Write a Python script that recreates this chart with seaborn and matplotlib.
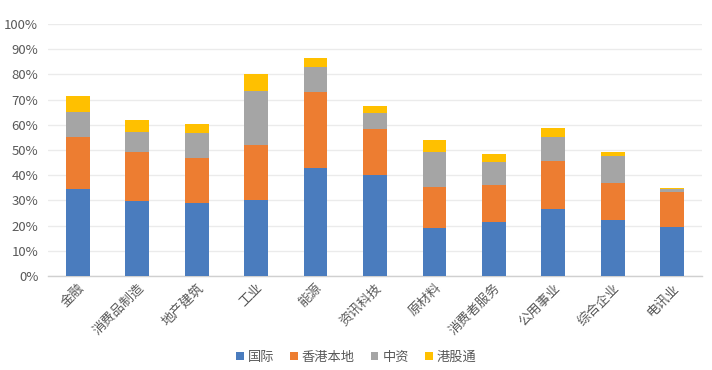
import matplotlib
matplotlib.use("Agg")
import matplotlib.pyplot as plt
import seaborn as sns
import numpy as np
import pandas as pd
from matplotlib.patches import Patch
from matplotlib.ticker import PercentFormatter

categories = ["金融", "消费品制造", "地产建筑", "工业", "能源", "资讯科技",
              "原材料", "消费者服务", "公用事业", "综合企业", "电讯业"]
intl = [34.6, 29.8, 29.0, 30.2, 43.0, 39.9, 19.1, 21.5, 26.4, 22.3, 19.5]
hk_local = [20.4, 19.5, 17.9, 21.6, 30.2, 18.5, 16.3, 14.7, 19.3, 14.7, 13.9]
china = [10.2, 7.9, 9.9, 21.7, 9.8, 6.4, 13.9, 9.1, 9.5, 10.8, 1.2]
connect = [6.3, 4.8, 3.6, 6.8, 3.6, 2.7, 4.7, 3.2, 3.6, 1.5, 0.4]
series_names = ["国际", "香港本地", "中资", "港股通"]
colors = ["#4A7CBE", "#ED7D31", "#A5A5A5", "#FFC000"]

sns.set_theme(style="white")
plt.rcParams["font.family"] = ["Noto Sans CJK SC", "DejaVu Sans"]

fig = plt.figure(figsize=(7.12, 3.70), dpi=100)
ax = fig.add_axes([0.0674, 0.254, 0.9186, 0.681])

vals = np.array([intl, hk_local, china, connect]) / 100.0
cum = np.cumsum(vals, axis=0)

for i in range(3, -1, -1):
    df = pd.DataFrame({"cat": categories, "v": cum[i]})
    sns.barplot(data=df, x="cat", y="v", color=colors[i], width=0.40,
                saturation=1, ax=ax, zorder=3 + (3 - i), edgecolor="none")

ax.set_ylim(0, 1.0)
ax.set_xlim(-0.5, len(categories) - 0.5)
ax.set_yticks(np.arange(0, 1.01, 0.1))
ax.yaxis.set_major_formatter(PercentFormatter(1.0, decimals=0))
ax.grid(axis="y", color="#EBEBEB", linewidth=1, zorder=0)
ax.set_axisbelow(True)
for s in ["left", "right", "top"]:
    ax.spines[s].set_visible(False)
ax.spines["bottom"].set_color("#D0D0D0")
ax.spines["bottom"].set_linewidth(1)
ax.set_xlabel("")
ax.set_ylabel("")
ax.tick_params(axis="both", length=0, colors="#595959", labelsize=9.5)
ax.tick_params(axis="y", pad=7)
ax.tick_params(axis="x", pad=4)
plt.setp(ax.get_xticklabels(), rotation=45, ha="right", rotation_mode="anchor")

handles = [Patch(facecolor=c, edgecolor="none") for c in colors]
fig.legend(handles, series_names, loc="center", bbox_to_anchor=(0.5, 0.035),
           ncol=4, frameon=False, fontsize=9.5, handlelength=0.6, handleheight=0.6,
           handletextpad=0.3, columnspacing=1.2, labelcolor="#595959")

fig.savefig("out.png", dpi=100)
